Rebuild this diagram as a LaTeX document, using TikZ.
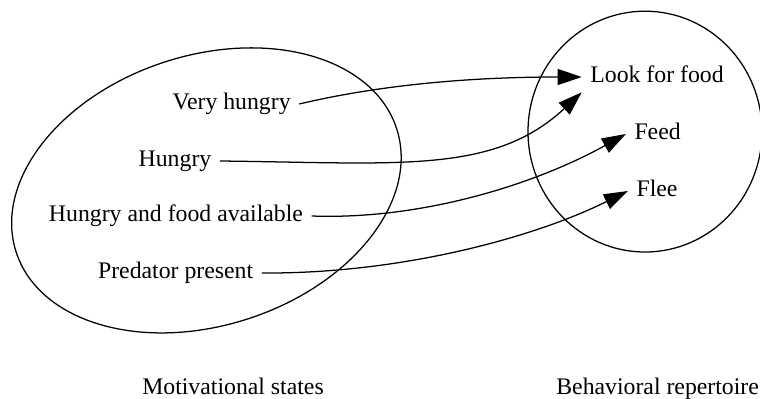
\documentclass[tikz,border=0pt]{standalone}
\usepackage{fontspec}
\setmainfont{Liberation Serif}
\usetikzlibrary{arrows.meta}

\begin{document}
\begin{tikzpicture}[every node/.style={font=\fontsize{16.9}{20}\selectfont, inner xsep=0.2cm, inner ysep=0.1cm, text height=11.8pt, text depth=3.4pt},
  line width=0.9pt,
  link/.style={-{Triangle[length=0.6cm,width=0.4cm]}}]
\useasboundingbox (0,0) rectangle (19,9.95);
% the two sets
\draw[rotate around={18:(5.16,5.19)}] (5.16,5.19) ellipse (5.0 and 3.375);
\draw (16.125,6.66) ellipse (2.925 and 3.01);
% motivational states
\node (vhungry) at (5.79,7.35) {Very hungry};
\node (hungry) at (4.375,5.925) {Hungry};
\node (foodav) at (4.4,4.55) {Hungry and food available};
\node (predator) at (4.39,3.125) {Predator present};
% behaviours
\node (look) at (16.425,8.025) {Look for food};
\node (feed) at (16.44,6.6) {Feed};
\node (flee) at (16.425,5.175) {Flee};
% captions
\node (motiv) at (5.825,0.225) {Motivational states};
\node (behav) at (16.44,0.225) {Behavioral repertoire};
% mapping
\draw[link] (vhungry.east) .. controls +(2.0,0.475) and +(-2.8,0) .. (look.west);
\draw[link] (hungry.east) .. controls +(4.5,-0.05) and +(-2.2,-2.05) .. (look.south west);
\draw[link] (foodav.east) .. controls +(2.725,-0.1) and +(-2.3,-1.275) .. (feed.west);
\draw[link] (predator.east) .. controls +(3.45,-0.025) and +(-2.375,-1.175) .. (flee.west);
\end{tikzpicture}
\end{document}
